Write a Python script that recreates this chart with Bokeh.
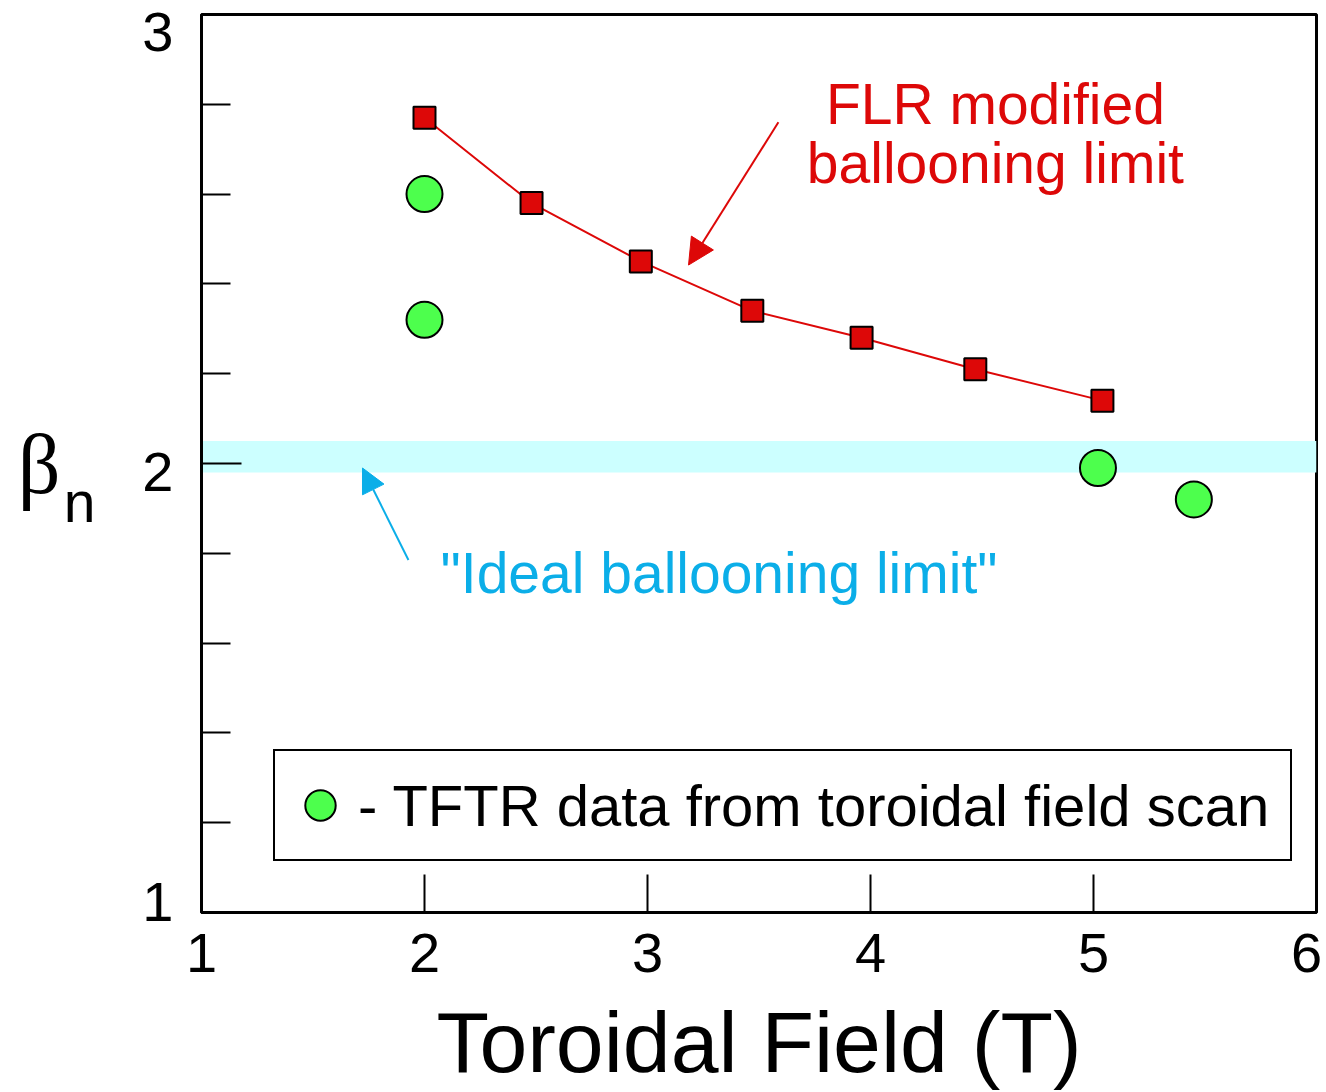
from bokeh.plotting import figure
from bokeh.models import (Range1d, FixedTicker, BoxAnnotation, Label, Arrow,
                          NormalHead, Legend, LegendItem, LinearAxis)
from bokeh.embed import file_html
from bokeh.resources import INLINE

# ---- data ----
FLR_FIELD = [2.0, 2.48, 2.97, 3.47, 3.96, 4.47, 5.04]
FLR_BETA = [2.77, 2.58, 2.45, 2.34, 2.28, 2.21, 2.14]
TFTR_FIELD = [2.0, 2.0, 5.02, 5.45]
TFTR_BETA = [2.60, 2.32, 1.99, 1.92]
IDEAL_LOW = 1.98
IDEAL_HIGH = 2.05
X_TICKS = [1, 2, 3, 4, 5, 6]
Y_TICKS = [1, 2, 3]
Y_MINOR = [1.2, 1.4, 1.6, 1.8, 2.2, 2.4, 2.6, 2.8]
# where the tick labels sit in the reference (edge labels are nudged inward)
X_LABEL_POS = [1, 2, 3, 4, 5, 5.955]
Y_LABEL_POS = [1.024, 1.982, 2.962]

RED = "#DD0808"
GREEN = "#4DFF4D"
BLUE = "#0BAEE8"
BAND = "#CCFFFF"
FONT = "Liberation Sans"

p = figure(width=1326, height=1092, x_range=Range1d(1, 6), y_range=Range1d(1, 3),
           output_backend="svg", toolbar_location=None,
           min_border_left=201, min_border_right=10, min_border_top=14,
           min_border_bottom=179)
p.xgrid.visible = False
p.ygrid.visible = False
p.outline_line_color = "black"
p.outline_line_width = 3
p.background_fill_color = "white"
p.border_fill_color = "white"

# x axis: ticks only (labels come from the axis below)
xa = p.xaxis[0]
xa.ticker = FixedTicker(ticks=X_TICKS, minor_ticks=[])
xa.major_tick_in = 38
xa.major_tick_out = 0
xa.minor_tick_in = 0
xa.minor_tick_out = 0
xa.major_tick_line_width = 2
xa.axis_line_width = 3
xa.major_label_overrides = {t: "" for t in X_TICKS}
xa.major_label_text_font_size = "1px"
xa.major_label_standoff = 0

# x axis: tick labels and title
x_labels = LinearAxis(ticker=FixedTicker(ticks=X_LABEL_POS, minor_ticks=[]),
                      major_label_overrides={pos: str(t) for pos, t in zip(X_LABEL_POS, X_TICKS)},
                      axis_line_color=None, major_tick_line_color=None,
                      minor_tick_line_color=None, major_tick_in=0, major_tick_out=0,
                      minor_tick_in=0, minor_tick_out=0, major_label_standoff=21,
                      major_label_text_font=FONT, major_label_text_font_size="56px",
                      major_label_text_color="black",
                      axis_label="Toroidal Field (T)", axis_label_text_font=FONT,
                      axis_label_text_font_size="86px", axis_label_text_font_style="normal",
                      axis_label_text_color="black", axis_label_standoff=19)
p.add_layout(x_labels, "below")

# y axis: ticks only (labels come from the axis to its left)
ya = p.yaxis[0]
ya.ticker = FixedTicker(ticks=Y_TICKS, minor_ticks=Y_MINOR)
ya.major_tick_in = 40
ya.major_tick_out = 0
ya.minor_tick_in = 29
ya.minor_tick_out = 0
ya.major_tick_line_width = 2
ya.minor_tick_line_width = 2
ya.axis_line_width = 3
ya.major_label_overrides = {t: "" for t in Y_TICKS}
ya.major_label_text_font_size = "1px"
ya.major_label_standoff = 0

# y axis: tick labels
y_labels = LinearAxis(ticker=FixedTicker(ticks=Y_LABEL_POS, minor_ticks=[]),
                      major_label_overrides={pos: str(t) for pos, t in zip(Y_LABEL_POS, Y_TICKS)},
                      axis_line_color=None, major_tick_line_color=None,
                      minor_tick_line_color=None, major_tick_in=0, major_tick_out=0,
                      minor_tick_in=0, minor_tick_out=0, major_label_standoff=28,
                      major_label_text_font=FONT, major_label_text_font_size="56px",
                      major_label_text_color="black")
p.add_layout(y_labels, "left")

# y axis title "beta_n": two label-only axes stacked further left
n_axis = LinearAxis(ticker=FixedTicker(ticks=[1.914], minor_ticks=[]),
                    major_label_overrides={1.914: "n"},
                    axis_line_color=None, major_tick_line_color=None,
                    minor_tick_line_color=None, major_tick_in=0, major_tick_out=0,
                    minor_tick_in=0, minor_tick_out=0, major_label_standoff=44,
                    major_label_text_font=FONT, major_label_text_font_size="57px",
                    major_label_text_color="black")
beta_axis = LinearAxis(ticker=FixedTicker(ticks=[1.997], minor_ticks=[]),
                       major_label_overrides={1.997: "β"},
                       axis_line_color=None, major_tick_line_color=None,
                       minor_tick_line_color=None, major_tick_in=0, major_tick_out=0,
                       minor_tick_in=0, minor_tick_out=0, major_label_standoff=0,
                       major_label_text_font="Liberation Serif",
                       major_label_text_font_size="84px",
                       major_label_text_color="black")
p.add_layout(n_axis, "left")
p.add_layout(beta_axis, "left")

# ideal ballooning band
p.add_layout(BoxAnnotation(bottom=IDEAL_LOW, top=IDEAL_HIGH, fill_color=BAND,
                           fill_alpha=1, line_color=None, level="underlay"))

# FLR curve
p.line(FLR_FIELD, FLR_BETA, line_color=RED, line_width=2)
p.scatter(FLR_FIELD, FLR_BETA, marker="square", size=22, fill_color=RED,
          line_color="black", line_width=2)

# TFTR data
tftr = p.scatter(TFTR_FIELD, TFTR_BETA, marker="circle", size=36, fill_color=GREEN,
                 line_color="black", line_width=2)

# annotations
p.add_layout(Label(x=4.56, y=2.757, y_offset=20, text="FLR modified", text_align="center",
                   text_baseline="alphabetic", text_font=FONT, text_font_size="57px",
                   text_color=RED))
p.add_layout(Label(x=4.56, y=2.624, y_offset=20, text="ballooning limit",
                   text_align="center", text_baseline="alphabetic", text_font=FONT,
                   text_font_size="57px", text_color=RED))
p.add_layout(Arrow(end=NormalHead(size=26, fill_color=RED, line_color=RED),
                   x_start=3.587, y_start=2.760, x_end=3.184, y_end=2.442,
                   line_color=RED, line_width=2))

p.add_layout(Label(x=2.072, y=1.712, y_offset=20, text='"Ideal ballooning limit"',
                   text_align="left", text_baseline="alphabetic", text_font=FONT,
                   text_font_size="57px", text_color=BLUE))
p.add_layout(Arrow(end=NormalHead(size=24, fill_color=BLUE, line_color=BLUE),
                   x_start=1.928, y_start=1.785, x_end=1.722, y_end=1.990,
                   line_color=BLUE, line_width=2))

# legend
legend = Legend(items=[LegendItem(label="- TFTR data from toroidal field scan",
                                  renderers=[tftr])],
                location=(72, 51), glyph_width=76, glyph_height=94, padding=7,
                label_standoff=0, label_width=925, margin=0, spacing=0,
                border_line_color="black", border_line_width=2, border_line_alpha=1,
                background_fill_color="white", background_fill_alpha=1,
                label_text_font=FONT, label_text_font_size="58px",
                label_text_color="black")
p.add_layout(legend)

open("out.html", "w").write(file_html(p, INLINE))
